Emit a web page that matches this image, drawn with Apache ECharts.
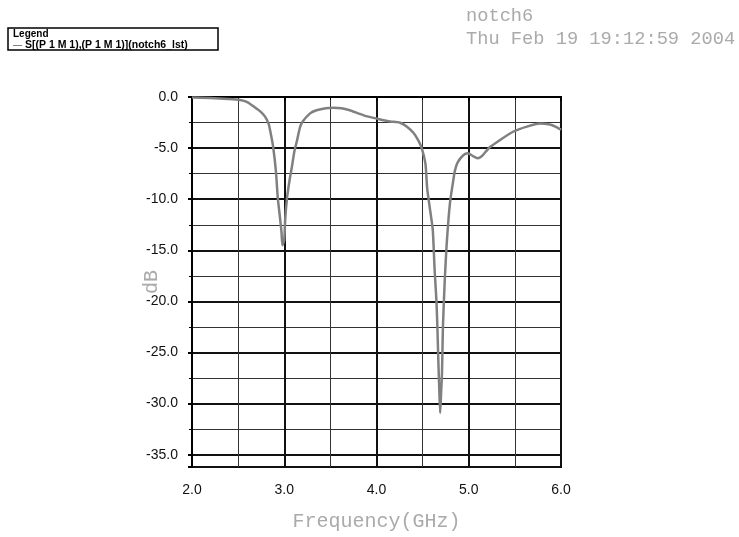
<!DOCTYPE html>
<html>
<head>
<meta charset="utf-8">
<title>notch6</title>
<script src="https://cdn.jsdelivr.net/npm/echarts@6/dist/echarts.min.js"></script>
<style>
  html, body { margin: 0; padding: 0; background: #fff; }
  #chart { width: 739px; height: 537px; }
</style>
</head>
<body>
<div id="chart"></div>
<script>
// S11 of notch6
const freqGHz = [
  2.00, 2.20, 2.39, 2.52, 2.60, 2.68, 2.74, 2.79, 2.83, 2.85,
  2.88, 2.91, 2.93, 2.95, 2.97, 2.98, 3.00, 3.01, 3.03, 3.06,
  3.08, 3.11, 3.14, 3.17, 3.20, 3.28, 3.35, 3.45, 3.53, 3.62,
  3.71, 3.80, 3.90, 4.04, 4.15, 4.25, 4.33, 4.40, 4.45, 4.49,
  4.53, 4.55, 4.58, 4.61, 4.63, 4.65, 4.66, 4.67, 4.68, 4.69,
  4.70, 4.71, 4.72, 4.74, 4.76, 4.78, 4.80, 4.83, 4.85, 4.88,
  4.94, 4.99, 5.05, 5.10, 5.14, 5.18, 5.23, 5.34, 5.48, 5.63,
  5.77, 5.88, 5.94, 6.00
]
const s11dB = [
  -0.05, -0.1, -0.2, -0.3, -0.5, -1.0, -1.4, -1.9, -2.6, -3.4,
  -4.9, -7.3, -9.9, -11.5, -13.2, -14.5, -14.0, -12.0, -9.9, -8.0,
  -7.0, -5.3, -4.2, -3.0, -2.4, -1.6, -1.3, -1.1, -1.05, -1.1,
  -1.3, -1.6, -1.9, -2.2, -2.4, -2.5, -2.9, -3.5, -4.2, -5.0,
  -6.5, -9.0, -11.0, -13.0, -16.9, -20.0, -22.5, -25.7, -28.5, -30.9,
  -29.0, -27.0, -22.5, -17.9, -14.5, -12.0, -10.1, -8.3, -7.2, -6.4,
  -5.7, -5.5, -5.8, -6.0, -5.8, -5.4, -4.9, -4.2, -3.4, -2.9,
  -2.6, -2.7, -2.9, -3.2
]
const seriesName = 'S[(P 1 M 1),(P 1 M 1)](notch6_lst)'
const titleLines = ['notch6', 'Thu Feb 19 19:12:59 2004']

const chart = echarts.init(document.getElementById('chart'))

const majorLine = { color: '#111', width: 2 }
const minorLine = { color: '#333', width: 1 }

chart.setOption({
  animation: false,
  title: {
    text: titleLines.join('\n'),
    left: 461,
    top: 0,
    textStyle: {
      fontFamily: 'Liberation Mono',
      fontSize: 18.7,
      fontWeight: 'normal',
      color: '#aaa',
      lineHeight: 23
    }
  },
  graphic: [
    {
      type: 'rect',
      shape: { x: 8, y: 28, width: 210, height: 22 },
      style: { fill: 'none', stroke: '#000', lineWidth: 1.5 }
    },
    {
      type: 'text',
      left: 13,
      top: 29,
      style: { text: 'Legend', fontSize: 10, fontWeight: 'bold', fontFamily: 'Liberation Sans', fill: '#000' }
    }
  ],
  legend: {
    left: 13,
    top: 40,
    padding: 0,
    itemWidth: 9,
    itemHeight: 1,
    itemGap: 2,
    icon: 'rect',
    data: [seriesName],
    textStyle: { fontSize: 10.5, fontWeight: 'bold', fontFamily: 'Liberation Sans', color: '#000', padding: [0, 0, 0, -2] }
  },
  grid: {
    left: 192,
    top: 97,
    right: 178,
    bottom: 70,
    show: true,
    borderColor: '#000',
    borderWidth: 2
  },
  xAxis: {
    type: 'value',
    min: 2,
    max: 6,
    interval: 1,
    name: 'Frequency(GHz)',
    nameLocation: 'middle',
    nameGap: 45,
    nameTextStyle: { fontFamily: 'Liberation Mono', fontSize: 20, color: '#aaa' },
    axisLine: { lineStyle: { color: '#000', width: 2 } },
    axisTick: { show: true, length: 4, inside: false, lineStyle: { color: '#000', width: 2 } },
    minorTick: { show: true, splitNumber: 2, length: 3, lineStyle: { color: '#000' } },
    axisLabel: {
      margin: 16,
      fontFamily: 'Liberation Sans',
      fontSize: 14,
      color: '#111',
      formatter: (v) => v.toFixed(1)
    },
    splitLine: { show: true, lineStyle: majorLine },
    minorSplitLine: { show: true, lineStyle: minorLine }
  },
  yAxis: {
    type: 'value',
    min: -36.2,
    max: 0,
    splitNumber: 8,
    name: 'dB',
    nameLocation: 'middle',
    nameGap: 30,
    nameMoveOverlap: false,
    nameTextStyle: { fontFamily: 'Liberation Mono', fontSize: 20, color: '#aaa' },
    axisLine: { show: true, lineStyle: { color: '#000', width: 2 } },
    axisTick: { show: true, length: 4, lineStyle: { color: '#000', width: 2 } },
    minorTick: { show: true, splitNumber: 2, length: 3, lineStyle: { color: '#000' } },
    axisLabel: {
      margin: 14,
      showMinLabel: false,
      fontFamily: 'Liberation Sans',
      fontSize: 14,
      color: '#111',
      formatter: (v) => v.toFixed(1)
    },
    splitLine: { show: true, lineStyle: majorLine },
    minorSplitLine: { show: true, lineStyle: minorLine }
  },
  series: [
    {
      name: seriesName,
      type: 'line',
      data: freqGHz.map((f, i) => [f, s11dB[i]]),
      showSymbol: false,
      smooth: 0.2,
      lineStyle: { color: '#808080', width: 2.5 },
      itemStyle: { color: '#808080' }
    }
  ]
})
</script>
</body>
</html>
